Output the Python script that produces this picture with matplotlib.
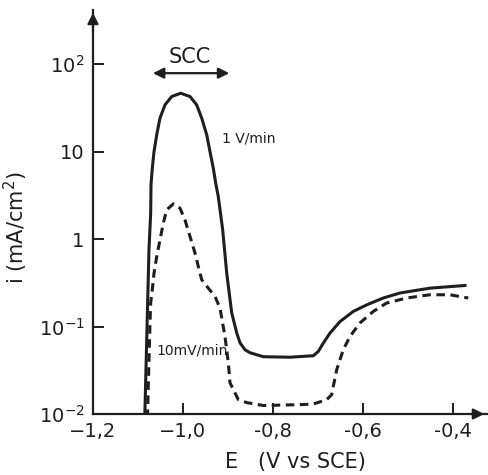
import matplotlib.pyplot as plt

# solid curve, scan rate 1 V/min  (E in V vs SCE, i in mA/cm2)
E_fast = [-1.0850, -1.0756, -1.0718, -1.0711, -1.0682, -1.0644, -1.0584, -1.0511,
          -1.0400, -1.0251, -1.0051, -0.9844, -0.9696, -0.9584, -0.9473, -0.9400,
          -0.9327, -0.9267, -0.9216, -0.9118, -0.9029, -0.8918, -0.8807, -0.8733,
          -0.8622, -0.8511, -0.8216, -0.7622, -0.7104, -0.6993, -0.6882, -0.6733,
          -0.6511, -0.6216, -0.5918, -0.5549, -0.5178, -0.4511, -0.4111, -0.3733]
i_fast = [0.009, 0.755, 2.0, 4.18, 6.47, 10.0, 15.6, 24.2,
          34.3, 42.7, 46.6, 42.7, 34.3, 24.2, 15.6, 10.0,
          6.47, 4.18, 3.07, 1.28, 0.412, 0.144, 0.0849, 0.0653,
          0.0543, 0.0502, 0.0452, 0.0446, 0.0464, 0.0519, 0.0647, 0.0843,
          0.114, 0.149, 0.177, 0.212, 0.242, 0.275, 0.285, 0.295]

# dashed curve, scan rate 10 mV/min
E_slow = [-1.0790, -1.0733, -1.0718, -1.0682, -1.0644, -1.0584, -1.0511, -1.0438,
          -1.0362, -1.0216, -1.0067, -0.9956, -0.9844, -0.9733, -0.9660, -0.9584,
          -0.9438, -0.9289, -0.9178, -0.9067, -0.8993, -0.8956, -0.8771, -0.8584,
          -0.8216, -0.7400, -0.7104, -0.6807, -0.6696, -0.6660, -0.6584, -0.6511,
          -0.6438, -0.6289, -0.6067, -0.5771, -0.5473, -0.5029, -0.4511, -0.4067,
          -0.3660]
i_slow = [0.009, 0.111, 0.187, 0.264, 0.408, 0.632, 0.982, 1.52,
          2.16, 2.53, 2.26, 1.66, 1.07, 0.692, 0.486, 0.343,
          0.275, 0.221, 0.163, 0.0771, 0.0385, 0.0228, 0.0146, 0.0135,
          0.0125, 0.0128, 0.0130, 0.0146, 0.0166, 0.0207, 0.0321, 0.0418,
          0.0543, 0.0771, 0.110, 0.149, 0.186, 0.212, 0.231, 0.231,
          0.212]

x_ticks = [-1.2, -1.0, -0.8, -0.6, -0.4]
x_labels = ['\u22121,2', '\u22121,0', '-0,8', '-0,6', '-0,4']
y_ticks = [0.01, 0.1, 1, 10, 100]
y_labels = ['$10^{-2}$', '$10^{-1}$', '1', '10', '$10^{2}$']

ink = '#1e1e1e'
plt.rcParams['font.family'] = ['DejaVu Sans']

fig = plt.figure(figsize=(4.89, 4.75), dpi=100)
ax = fig.add_axes([93 / 489, 61 / 475, 394 / 489, 404 / 475])

ax.plot(E_fast, i_fast, color=ink, lw=2.2, solid_joinstyle='round')
ax.plot(E_slow, i_slow, color=ink, lw=2.2, dashes=(2.8, 1.8))

ax.set_yscale('log')
ax.set_xlim(-1.2, -0.3244)
ax.set_ylim(0.01, 417)

ax.set_xticks(x_ticks)
ax.set_xticklabels(x_labels, fontsize=14)
ax.set_yticks(y_ticks)
ax.set_yticklabels(y_labels, fontsize=14)
ax.minorticks_off()
ax.tick_params(direction='in', length=8, width=1.4, color=ink, labelcolor=ink, pad=6)

for s in ['top', 'right']:
    ax.spines[s].set_visible(False)
for s in ['left', 'bottom']:
    ax.spines[s].set_linewidth(1.6)
    ax.spines[s].set_color(ink)

# axis arrows
ax.annotate('', xy=(0, 1.0), xytext=(0, 0.94), xycoords='axes fraction',
            arrowprops=dict(arrowstyle='-|>', color=ink, lw=1.6, mutation_scale=16))
ax.annotate('', xy=(1.0, 0), xytext=(0.95, 0), xycoords='axes fraction',
            arrowprops=dict(arrowstyle='-|>', color=ink, lw=1.6, mutation_scale=16))

ax.set_ylabel('i (mA/cm$^2$)', fontsize=15, color=ink)
ax.yaxis.set_label_coords(-0.16, 0.46)
ax.set_xlabel('E   (V vs SCE)', fontsize=15, color=ink, labelpad=4)
ax.xaxis.set_label_coords(0.515, -0.095)

# SCC range
ax.annotate('', xy=(-1.073, 79), xytext=(-0.891, 79),
            arrowprops=dict(arrowstyle='<|-|>', color=ink, lw=1.6, mutation_scale=16))
ax.text(-0.984, 120, 'SCC', fontsize=15, ha='center', va='center', color=ink)

ax.text(-0.914, 14, '1 V/min', fontsize=10, ha='left', va='center', color=ink)
ax.text(-1.058, 0.053, '10mV/min', fontsize=10, ha='left', va='center', color=ink)

fig.savefig('out.png', dpi=100)
